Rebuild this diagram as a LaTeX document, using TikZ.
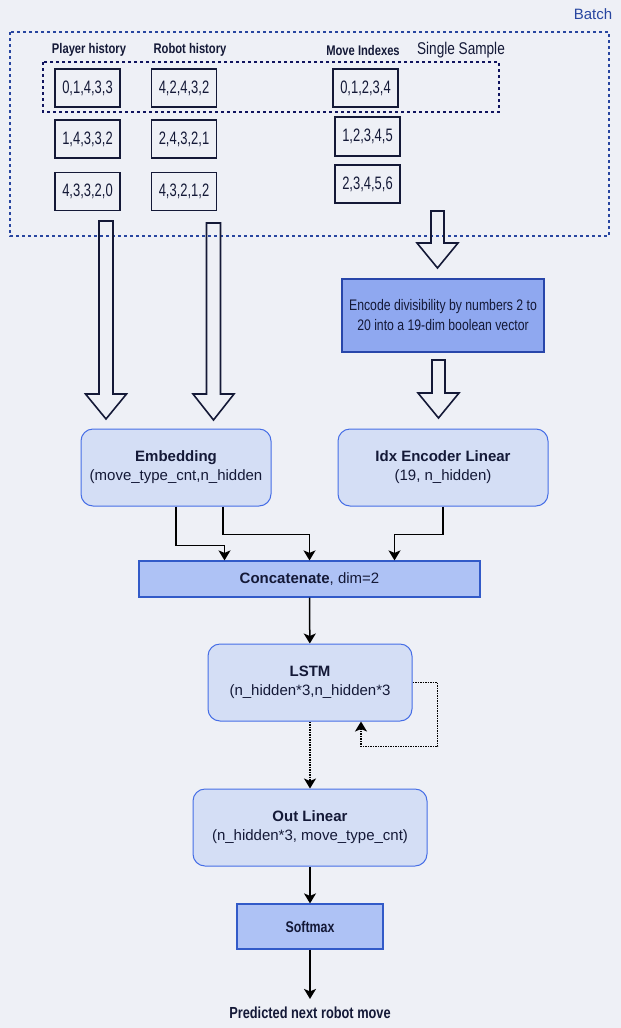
\documentclass[tikz,border=0pt]{standalone}
\usepackage{fontspec}
\setmainfont{Liberation Sans}
\newfontfamily\narrowfont[FakeStretch=0.8]{Liberation Sans}
\newfontfamily\slimfont[FakeStretch=0.72]{Liberation Sans}
\usepackage{tikz}
\usetikzlibrary{arrows.meta}
\usetikzlibrary{calc}

\definecolor{bgcol}{RGB}{238,240,246}
\definecolor{inkcol}{RGB}{20,25,55}
\definecolor{batchcol}{RGB}{40,70,160}
\definecolor{layerfill}{RGB}{212,222,245}
\definecolor{layerline}{RGB}{70,110,230}
\definecolor{opfill}{RGB}{174,194,245}
\definecolor{opline}{RGB}{50,90,200}
\definecolor{encfill}{RGB}{143,168,240}
\definecolor{encline}{RGB}{40,70,170}

\begin{document}
\begin{tikzpicture}[x=1pt,y=-1pt,
    every node/.style={text=inkcol},
    databox/.style={draw=inkcol,line width=1.6pt,minimum width=65pt,minimum height=38pt,inner sep=0pt,
        font=\slimfont\fontsize{18}{20}\selectfont},
    colhead/.style={font=\narrowfont\bfseries\fontsize{14}{17}\selectfont},
    layer/.style={draw=layerline,fill=layerfill,line width=1pt,rounded corners=12pt,align=center,
        minimum height=77pt,inner sep=0pt,font=\fontsize{15}{19}\selectfont},
    opbox/.style={draw=opline,fill=opfill,line width=1.2pt,inner sep=0pt},
    fatarrow/.style={draw=inkcol,line width=1.6pt,line join=miter},
    arr/.style={draw=black,line width=1.5pt,-{Stealth[length=10pt,width=12pt,inset=2.5pt]}}]
    \useasboundingbox[fill=bgcol] (0,0) rectangle (621,1028);

    % batch and single sample frames
    \draw[batchcol,dashed,line width=1.2pt] (10,32) rectangle (609,236);
    \draw[inkcol!80!blue,dashed,line width=1.2pt] (43,62) rectangle (499,112);
    \node[text=batchcol,font=\fontsize{15}{18}\selectfont] (batch) at (593,14) {Batch};
    \node[font=\narrowfont\fontsize{17}{20}\selectfont] (single) at (461,50) {Single Sample};

    % input columns
    \node[colhead] (playerhead) at (89,50) {Player history};
    \node[colhead] (robothead) at (190,50) {Robot history};
    \node[colhead] (movehead) at (363,50) {Move Indexes};

    \node[databox] (player1) at (87.5,88) {0,1,4,3,3};
    \node[databox] (player2) at (87.5,139) {1,4,3,3,2};
    \node[databox] (player3) at (87.5,191.5) {4,3,3,2,0};
    \node[databox] (robot1) at (184,88) {4,2,4,3,2};
    \node[databox] (robot2) at (184,139) {2,4,3,2,1};
    \node[databox] (robot3) at (184,191.5) {4,3,2,1,2};
    \node[databox] (move1) at (365.5,88) {0,1,2,3,4};
    \node[databox,minimum height=39pt] (move2) at (367.5,136.5) {1,2,3,4,5};
    \node[databox] (move3) at (367.5,184) {2,3,4,5,6};

    % hollow arrows
    \draw[fatarrow] (99,221) -- (113,221) -- (113,394) -- (126.5,394) -- (106,419) -- (85.5,394) -- (99,394) -- cycle;
    \draw[fatarrow] (206.5,223) -- (220.5,223) -- (220.5,394) -- (234,394) -- (213.5,420) -- (193,394) -- (206.5,394) -- cycle;
    \draw[fatarrow] (431,211) -- (444,211) -- (444,243) -- (458,243) -- (437.5,268) -- (417,243) -- (431,243) -- cycle;
    \draw[fatarrow] (432,360) -- (445,360) -- (445,393) -- (459,393) -- (438.5,418) -- (418,393) -- (432,393) -- cycle;

    \node[draw=encline,fill=encfill,line width=1.2pt,minimum width=202pt,minimum height=73pt,inner sep=0pt,
        align=center,font=\narrowfont\fontsize{15.3}{20}\selectfont] (encode) at (443,315.5)
        {Encode divisibility by numbers 2 to\\20 into a 19-dim boolean vector};

    % network
    \node[layer,minimum width=190pt] (embed) at (176,467.5) {\textbf{Embedding}\\(move\_type\_cnt,n\_hidden};
    \node[layer,minimum width=210pt] (idxenc) at (443,467.5) {\textbf{Idx Encoder Linear}\\(19, n\_hidden)};
    \node[opbox,minimum width=341pt,minimum height=36pt,font=\fontsize{15}{18}\selectfont] (concat) at (309.5,579)
        {\textbf{Concatenate}, dim=2};
    \node[layer,minimum width=204pt] (lstm) at (310,682.5) {\textbf{LSTM}\\(n\_hidden*3,n\_hidden*3};
    \node[layer,minimum width=234pt] (outlin) at (310,827.5) {\textbf{Out Linear}\\(n\_hidden*3, move\_type\_cnt)};
    \node[opbox,minimum width=146pt,minimum height=45pt,font=\narrowfont\bfseries\fontsize{15.5}{18}\selectfont] (softmax)
        at (310,926.5) {Softmax};
    \node[inner sep=2pt,font=\narrowfont\bfseries\fontsize{16}{19}\selectfont] (pred) at (310,1013)
        {Predicted next robot move};

    \draw[arr] (embed.south) -- ++(0,39) -| ([xshift=-85pt]concat.north);
    \draw[arr] ([xshift=47pt]embed.south) -- ++(0,28) -| (concat.north);
    \draw[arr] (idxenc.south) -- ++(0,28) -| ([xshift=85pt]concat.north);
    \draw[arr] (concat) -- (lstm);
    \draw[arr,densely dotted] (lstm.east) -- ++(25,0) -- ++(0,64) -| ([xshift=51pt]lstm.south);
    \draw[arr,densely dotted] (lstm) -- (outlin);
    \draw[arr] (outlin) -- (softmax);
    \draw[arr,shorten >=6pt] (softmax) -- (pred);
\end{tikzpicture}
\end{document}
